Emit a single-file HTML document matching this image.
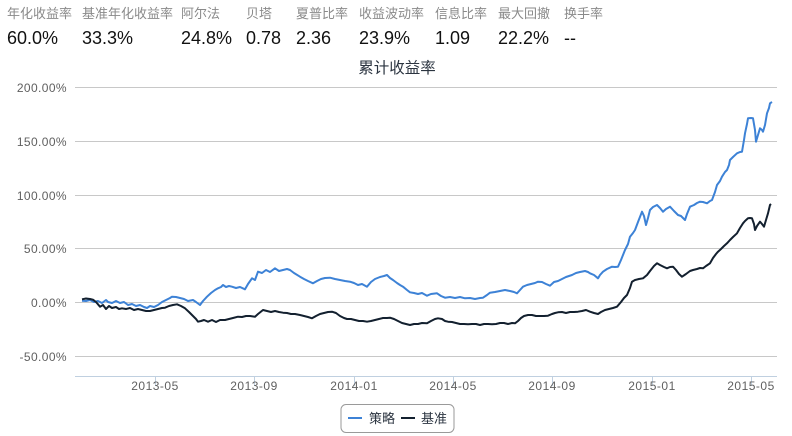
<!DOCTYPE html>
<html><head><meta charset="utf-8"><style>
html,body{margin:0;padding:0;background:#fff;}
body{width:792px;height:436px;overflow:hidden;position:relative;font-family:"Liberation Sans","Noto Sans CJK SC",sans-serif;}
.m{position:absolute;top:6px;}
.m .l{font-size:13px;color:#8a8a8a;line-height:16px;white-space:nowrap;}
.m .v{font-size:18px;color:#111;line-height:22px;margin-top:5px;white-space:nowrap;}
svg{position:absolute;left:0;top:0;}
</style></head><body>
<div class="m" style="left:7px"><div class="l">年化收益率</div><div class="v">60.0%</div></div>
<div class="m" style="left:82px"><div class="l">基准年化收益率</div><div class="v">33.3%</div></div>
<div class="m" style="left:181px"><div class="l">阿尔法</div><div class="v">24.8%</div></div>
<div class="m" style="left:246px"><div class="l">贝塔</div><div class="v">0.78</div></div>
<div class="m" style="left:296px"><div class="l">夏普比率</div><div class="v">2.36</div></div>
<div class="m" style="left:359px"><div class="l">收益波动率</div><div class="v">23.9%</div></div>
<div class="m" style="left:435px"><div class="l">信息比率</div><div class="v">1.09</div></div>
<div class="m" style="left:498px"><div class="l">最大回撤</div><div class="v">22.2%</div></div>
<div class="m" style="left:564px"><div class="l">换手率</div><div class="v">--</div></div>
<svg width="792" height="436" viewBox="0 0 792 436" xmlns="http://www.w3.org/2000/svg">
<text x="397" y="73" text-anchor="middle" font-family="Liberation Sans,Noto Sans CJK SC,sans-serif" font-size="15.5" fill="#2b3440">累计收益率</text>
<g stroke="#c8c8c8" stroke-width="1">
<line x1="75" y1="87.5" x2="777" y2="87.5"/>
<line x1="75" y1="141.5" x2="777" y2="141.5"/>
<line x1="75" y1="195.5" x2="777" y2="195.5"/>
<line x1="75" y1="248.5" x2="777" y2="248.5"/>
<line x1="75" y1="302.5" x2="777" y2="302.5"/>
<line x1="75" y1="356.5" x2="777" y2="356.5"/>
</g>
<line x1="75" y1="376.5" x2="777" y2="376.5" stroke="#c0d0e0" stroke-width="1"/>
<g stroke="#c0d0e0" stroke-width="1">
<line x1="155.5" y1="376" x2="155.5" y2="386"/>
<line x1="254.5" y1="376" x2="254.5" y2="386"/>
<line x1="354.5" y1="376" x2="354.5" y2="386"/>
<line x1="453.5" y1="376" x2="453.5" y2="386"/>
<line x1="552.5" y1="376" x2="552.5" y2="386"/>
<line x1="652.5" y1="376" x2="652.5" y2="386"/>
<line x1="751.5" y1="376" x2="751.5" y2="386"/>
</g>
<g font-family="Liberation Sans,sans-serif" font-size="12" fill="#606060" text-anchor="end" letter-spacing="0.4">
<text x="67" y="92">200.00%</text>
<text x="67" y="146">150.00%</text>
<text x="67" y="200">100.00%</text>
<text x="67" y="253">50.00%</text>
<text x="67" y="307">0.00%</text>
<text x="67" y="361">-50.00%</text>
</g>
<g font-family="Liberation Sans,sans-serif" font-size="12" fill="#606060" text-anchor="middle" letter-spacing="0.5">
<text x="155" y="390">2013-05</text>
<text x="254" y="390">2013-09</text>
<text x="354" y="390">2014-01</text>
<text x="453" y="390">2014-05</text>
<text x="552" y="390">2014-09</text>
<text x="652" y="390">2015-01</text>
<text x="751" y="390">2015-05</text>
</g>
<polyline fill="none" stroke="#3d82d6" stroke-width="2" stroke-linejoin="round" points="82,300.7 86,301 90,300 94,302 98,301 102,303 106,300 108,302 112,303 116,301 120,303 124,302 128,305 132,304 136,306 140,305 144,307 147,308 150,306 154,307 158,305 162,302 166,300 170,298 172,296.7 176,297 180,298 184,299 188,301 193,300 196,302 200,305 203,301 207,296.7 211,293 215,290 218,288.3 221,287 223,285 226,287 229,286 232,286.7 236,288 240,287 245,289.3 248,284 252,278.3 255,280 258,271.7 262,273 266,270 270,272 275,268.3 279,271 283,270 287,269 290,270 294,273 300,276.7 304,279 308,281 313,283.3 317,281 321,279 325,278 330,277.7 335,279 340,280 345,281 350,281.7 354,283 358,285 362,284 367,286.7 371,282 375,279 380,277 384,276 387,275 390,278 393,280 397,283 400,285 403,286.7 407,290 410,292.3 414,293 418,294 422,293 427,295.7 431,294 437,293.3 441,296 445,297.7 450,297 455,298 460,297 465,298.3 470,298 475,299 480,298 483,297.7 487,295 490,292.7 495,292 500,291 505,290 510,291 514,292 517,293.3 520,290 523,286.7 527,285 531,284 535,283 538,281.7 542,282 546,284 550,285.7 554,282 558,281 562,279 566,277 569,276 572,275 576,273 580,272 585,271 588,272 590,273.3 594,275 598,278.3 600,275 603,271.7 607,269 612,266.7 615,267 618,266.7 621,260 625,250 628,244 630,236.7 633,233 635,230 638,222 642,211.7 644,216 646,225 648,218 650,210 653,207 657,205 660,208 663,211.7 666,209 670,206.7 674,211 678,215 681,216 685,220 687,214 690,206.7 694,205 697,203 700,201.7 703,202 707,203.3 710,201 712,200 715,192 717,185 720,181 722,176.7 725,172 727,170 729,165 730,160 733,157 737,153.3 740,152 742,151.7 744,140 745,133.3 747,124 748,118.3 751,118 753,118.3 755,130 756,141.7 758,135 760,128.3 762,130 763,131.7 765,125 767,113.3 769,108 770,103.3 772,102"/>
<polyline fill="none" stroke="#13202f" stroke-width="2" stroke-linejoin="round" points="82,299.3 86,298.5 90,299 93,299.7 96,302 100,306.7 103,305 106,309 109,306 112,308 116,307 119,309 122,308.3 126,309 130,308 134,310 138,309 142,310 146,311 150,311 154,310 158,309 162,308 165,307.7 169,306 173,305 177,304.3 181,306 185,308.3 189,312 193,316 196,319 198,321.7 201,321 204,320 208,321.7 212,320 216,322 220,320 225,320 229,319 233,318 238,316.7 242,317 246,316 250,316 255,316.7 258,314 263,310 267,311 271,312 275,311 279,312 283,312.7 287,313 291,314 295,314 300,315 304,316 308,317 312,318.3 316,316 320,314 324,313 328,312 332,311.7 336,313 340,316 344,318 347,319 351,319 355,320 359,321 363,321 367,321.7 371,321 375,320 379,319 383,318 387,318 390,317.7 394,319 398,321 402,323 406,324 410,325 414,324 418,324 422,323 427,323.3 431,321 435,319 438,318.3 442,319 445,321 448,321.7 452,322 456,323 460,324 464,324 468,324.3 472,324 476,324 480,325 484,324 488,324 492,324.3 496,324 500,323 504,323 508,324 512,323 515,323.3 518,321 521,318 524,316 528,315 532,315 536,316 540,316 544,316 548,315.7 552,314 555,313 558,312.3 562,312 566,313 570,312 574,312 578,311.7 582,311 586,310 590,311.7 594,313 598,314 601,312 605,310 609,309 613,308 617,306.7 621,302 624,298 627,295 630,288 632,281.7 635,280 639,279 643,278.3 647,275 650,271 654,266 657,263.3 660,265 664,267 667,268.3 670,267 673,266.7 676,270 679,274 682,276.7 686,274 690,271 693,270 697,269 700,268 703,268.3 706,266 710,263.3 713,258 716,254 718,251.7 721,249 724,246 727,243.3 730,240 733,237 737,233.3 740,228 743,223.3 745,221 748,218.3 750,218 752,218.3 754,224 755,230 757,226 760,221.7 762,224 764,226.7 766,220 768,213.3 770,205 771,204"/>
<rect x="341" y="404.5" width="113" height="28" rx="5" ry="5" fill="#fff" stroke="#9a9a9a" stroke-width="1"/>
<line x1="348" y1="418" x2="362" y2="418" stroke="#3d82d6" stroke-width="2"/>
<text x="369" y="423" font-family="Liberation Sans,Noto Sans CJK SC,sans-serif" font-size="13" fill="#2b3440">策略</text>
<line x1="401" y1="418" x2="415" y2="418" stroke="#13202f" stroke-width="2"/>
<text x="421" y="423" font-family="Liberation Sans,Noto Sans CJK SC,sans-serif" font-size="13" fill="#2b3440">基准</text>
</svg>
</body></html>
